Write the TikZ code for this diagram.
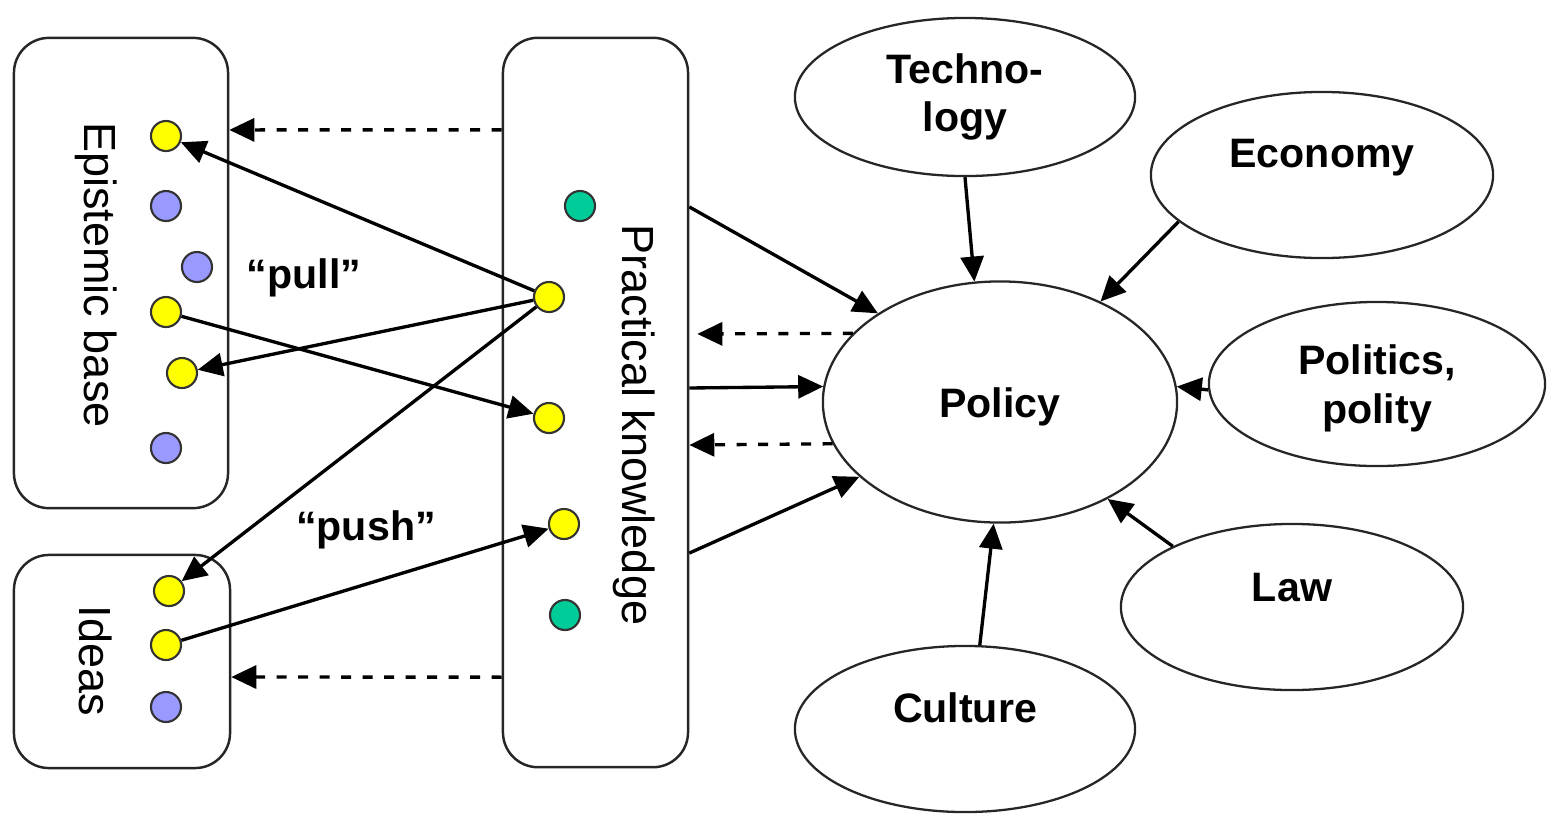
\documentclass[tikz,border=0pt]{standalone}
\usepackage{fontspec}
\setmainfont{Liberation Sans}
\usetikzlibrary{arrows.meta,shapes.geometric}
\definecolor{dotyellow}{RGB}{255,255,0}
\definecolor{dotblue}{RGB}{153,153,255}
\definecolor{dotgreen}{RGB}{0,204,153}
\begin{document}
\begin{tikzpicture}[x=0.01cm,y=-0.01cm,
  box/.style={draw=black!85,line width=0.7pt,rounded corners=0.35cm,inner sep=0pt},
  oval/.style={ellipse,draw=black!85,line width=0.65pt,inner sep=0pt,align=center,
    font=\fontsize{11.7}{13.6}\selectfont\bfseries},
  dot/.style={circle,draw=black!80,line width=0.6pt,minimum size=0.3cm,inner sep=0pt},
  ylw/.style={dot,fill=dotyellow},
  blu/.style={dot,fill=dotblue},
  grn/.style={dot,fill=dotgreen},
  arr/.style={-{Triangle[length=0.25cm,width=0.23cm]},line width=0.95pt},
  darr/.style={arr,dash pattern=on 0.1cm off 0.115cm},
  vlabel/.style={rotate=-90,font=\fontsize{12.8}{15}\selectfont},
  blabel/.style={font=\fontsize{11.7}{14}\selectfont\bfseries}
]
\useasboundingbox (0,0) rectangle (1547,814);

% boxes
\node[box,minimum width=2.14cm,minimum height=4.70cm] (epi) at (121,273) {};
\node[box,minimum width=1.85cm,minimum height=7.29cm] (prac) at (595.5,402.5) {};
\node[box,minimum width=2.16cm,minimum height=2.13cm] (ideas) at (122,661.5) {};

\node[vlabel] (epiT) at (96,275) {Epistemic base};
\node[vlabel] (ideasT) at (96,661) {Ideas};
\node[vlabel] (pracT) at (634,425) {Practical knowledge};

% dots
\node[ylw] (e1) at (166,136) {};
\node[blu] (e2) at (166,206) {};
\node[blu] (e3) at (197,267) {};
\node[ylw] (e4) at (166,312) {};
\node[ylw] (e5) at (182,373) {};
\node[blu] (e6) at (166,448) {};

\node[ylw] (i1) at (169,591) {};
\node[ylw] (i2) at (166,645) {};
\node[blu] (i3) at (166,707) {};

\node[grn] (p1) at (580,206) {};
\node[ylw] (p2) at (549,297) {};
\node[ylw] (p3) at (549,418) {};
\node[ylw] (p4) at (564,524) {};
\node[grn] (p5) at (565,615) {};

\node[blabel] (pull) at (304,278) {“pull”};
\node[blabel] (push) at (366,530) {“push”};

% ellipses
\node[oval,minimum width=3.54cm,minimum height=2.41cm,
  label={[blabel,yshift=-0.05cm]center:Policy}] (policy) at (1000,402) {};
\node[oval,minimum width=3.40cm,minimum height=1.58cm] (tech) at (965,97) {Techno-\\logy};
\node[oval,minimum width=3.42cm,minimum height=1.66cm,
  label={[blabel,yshift=0.17cm]center:Economy}] (econ) at (1322,175) {};
\node[oval,minimum width=3.36cm,minimum height=1.64cm,
  label={[blabel,align=center,yshift=-0.04cm]center:Politics,\\polity}] (pol) at (1377,384) {};
\node[oval,minimum width=3.42cm,minimum height=1.66cm,
  label={[blabel,yshift=0.19cm]center:Law}] (law) at (1292,607) {};
\node[oval,minimum width=3.40cm,minimum height=1.66cm,
  label={[blabel,yshift=0.21cm]center:Culture}] (cult) at (965,729) {};

% influences on policy
\draw[arr] (tech.south) -- (policy.102);
\draw[arr] (econ.198) -- (policy.45);
\draw[arr] (pol.182) -- (policy.5);
\draw[arr] (law.153) -- (policy.318);
\draw[arr] (cult.80) -- (policy.267);

% practical knowledge <-> policy
\draw[arr] ([yshift=1.955cm]prac.east) -- (policy.144);
\draw[arr] ([yshift=0.145cm]prac.east) -- (policy.175.5);
\draw[arr] ([yshift=-1.505cm]prac.east) -- (policy.208);
\draw[darr] (policy.155) -- ([shift={(0.08cm,0.685cm)}]prac.east);
\draw[darr] (policy.194.6) -- ([yshift=-0.425cm]prac.east);

% dashed feedback to left boxes
\draw[darr] ([yshift=2.725cm]prac.west) -- ([yshift=1.43cm]epi.east);
\draw[darr] ([yshift=-2.745cm]prac.west) -- ([yshift=-0.155cm]ideas.east);

% pull / push arrows
\draw[arr] (p2) -- (e1);
\draw[arr] (p2) -- (e5);
\draw[arr] (p2) -- (i1);
\draw[arr] (e4) -- (p3);
\draw[arr] (i2) -- (p4);
\end{tikzpicture}
\end{document}
